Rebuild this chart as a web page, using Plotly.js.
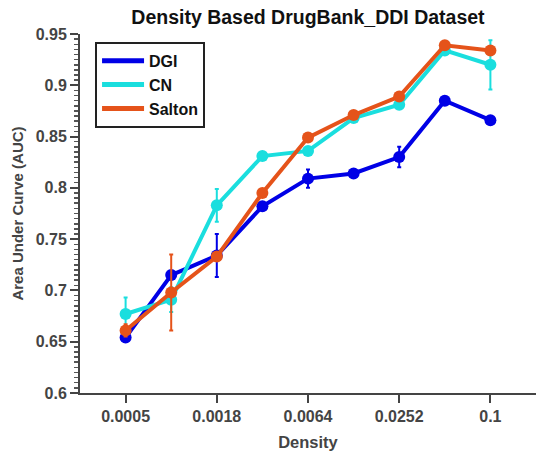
<!DOCTYPE html>
<html><head><meta charset="utf-8">
<script src="https://cdn.plot.ly/plotly-3.0.1.min.js"></script>
<style>html,body{margin:0;padding:0;background:#fff}#c{width:547px;height:452px}</style>
</head><body><div id="c"></div>
<script>
const densityIndex = [0,1,2,3,4,5,6,7,8];
const tickPos = [0,2,4,6,8];
const tickLabels = ['0.0005','0.0018','0.0064','0.0252','0.1'];
const dgi = [0.654,0.715,0.734,0.782,0.809,0.814,0.830,0.885,0.866];
const dgiErr = [0.004,0.004,0.021,0.003,0.009,0.003,0.010,0.003,0.003];
const cn = [0.677,0.691,0.783,0.831,0.836,0.868,0.881,0.934,0.920];
const cnErr = [0.016,0.012,0.016,0.003,0.003,0.003,0.003,0.003,0.024];
const salton = [0.661,0.698,0.733,0.795,0.849,0.871,0.889,0.939,0.934];
const saltonErr = [0.006,0.037,0.004,0.003,0.003,0.003,0.003,0.003,0.003];

const names = ['DGI','CN','Salton'];
const colors = ['#0000E6','#1ADEDE','#E5531A'];
const ys = [dgi, cn, salton];
const errs = [dgiErr, cnErr, saltonErr];

const data = [];
names.forEach((n,i)=>{
  data.push({x: densityIndex, y: ys[i], name: n, type:'scatter', mode:'lines+markers', showlegend:false,
    line:{color:colors[i],width:4}, marker:{color:colors[i],size:12},
    error_y:{type:'data', array:errs[i], visible:true, color:colors[i], thickness:2, width:2}});
});
names.forEach((n,i)=>{
  data.push({x:[null], y:[null], name:n, type:'scatter', mode:'lines', line:{color:colors[i], width:5}, showlegend:true});
});
const tf = {family:'Liberation Sans, Arial, sans-serif', size:16, color:'#444', weight:'bold'};
const layout = {
  width:547, height:452,
  margin:{l:80, r:11, t:34, b:59},
  paper_bgcolor:'#fff', plot_bgcolor:'#fff',
  font:{family:'Liberation Sans, Arial, sans-serif', color:'#222'},
  title:{text:'<b>Density Based DrugBank_DDI Dataset</b>', font:{size:19.5, color:'#111'}, x:0.563, xanchor:'center', y:0.978, yanchor:'top'},
  xaxis:{range:[-1,9], tickmode:'array', tickvals:tickPos, ticktext:tickLabels.map(t=>'<b>'+t+'</b>'),
    showgrid:false, zeroline:false, showline:true, linecolor:'#444', linewidth:2,
    ticks:'outside', ticklen:8, tickwidth:2, tickcolor:'#444', tickfont:tf,
    title:{text:'<b>Density</b>', font:{size:16.5, color:'#444'}, standoff:12}},
  yaxis:{range:[0.6,0.95], tickmode:'array', tickvals:[0.6,0.65,0.7,0.75,0.8,0.85,0.9,0.95],
    ticktext:['0.6','0.65','0.7','0.75','0.8','0.85','0.9','0.95'].map(t=>'<b>'+t+'</b>'),
    showgrid:false, zeroline:false, showline:true, linecolor:'#444', linewidth:2,
    ticks:'outside', ticklen:8, tickwidth:2, tickcolor:'#444', tickfont:tf,
    minor:{dtick:0.005, ticks:'outside', ticklen:4, tickwidth:1.5, tickcolor:'#555', showgrid:false},
    title:{text:'<b>Area Under Curve (AUC)</b>', font:{size:15, color:'#444'}, standoff:8}},
  showlegend:true,
  legend:{x:0.033, y:0.978, xanchor:'left', yanchor:'top', bgcolor:'#fff', bordercolor:'#222', borderwidth:2,
    itemwidth:42,
    font:{size:16, color:'#111', family:'Liberation Sans, Arial, sans-serif', weight:'bold'}, tracegroupgap:0}
};
Plotly.newPlot('c', data, layout, {displayModeBar:false, staticPlot:true});
</script></body></html>
